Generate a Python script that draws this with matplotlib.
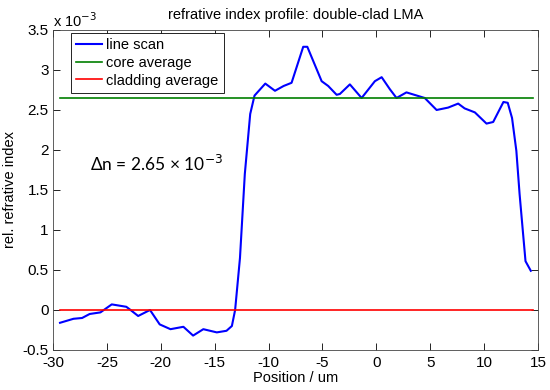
import matplotlib.pyplot as plt

# line scan, position in um, rel. index in units of 1e-3
pos = [-29.35, -28.1, -27.3, -26.6, -25.6, -24.55, -23.2, -22.9, -22.1, -21.0,
       -20.1, -19.1, -17.9, -17.0, -16.05, -14.8, -13.9, -13.4, -13.1, -12.65,
       -12.2, -11.7, -11.3, -10.3, -9.4, -8.6, -7.86, -6.78, -6.4, -5.07,
       -4.46, -3.68, -3.38, -2.45, -1.36, -0.13, 0.5, 1.26, 1.88, 2.8,
       4.5, 5.6, 6.67, 7.6, 8.2, 9.15, 10.23, 10.85, 11.8, 12.2,
       12.6, 13.0, 13.3, 13.6, 13.85, 14.34]
dn = [-0.16, -0.11, -0.10, -0.05, -0.03, 0.07, 0.04, 0.01, -0.075, 0.0,
      -0.18, -0.24, -0.21, -0.32, -0.24, -0.28, -0.26, -0.20, 0.0, 0.65,
      1.7, 2.45, 2.68, 2.83, 2.74, 2.80, 2.84, 3.29, 3.29, 2.86,
      2.80, 2.69, 2.70, 2.82, 2.65, 2.86, 2.91, 2.76, 2.65, 2.72,
      2.65, 2.50, 2.53, 2.58, 2.52, 2.47, 2.33, 2.35, 2.60, 2.59,
      2.40, 1.99, 1.45, 0.99, 0.61, 0.49]
core_avg = 2.65
clad_avg = 0.0
avg_range = [-29.35, 14.5]

plt.rcParams['font.family'] = ['Liberation Sans', 'DejaVu Sans']
plt.rcParams['font.size'] = 10.5
plt.rcParams['axes.unicode_minus'] = False

fig = plt.figure(figsize=(5.5, 3.9), dpi=100)
ax = fig.add_axes([0.0964, 0.1026, 0.8816, 0.8205])

ax.plot(pos, dn, color="#0000ff", lw=1.5, label="line scan")
ax.plot(avg_range, [core_avg, core_avg], color="#007f00", lw=1.2, label="core average")
ax.plot(avg_range, [clad_avg, clad_avg], color="#ff0000", lw=1.2, label="cladding average")

ax.set_xlim(-30, 15)
ax.set_ylim(-0.5, 3.5)
ax.set_xticks(range(-30, 16, 5))
ax.set_yticks([-0.5, 0, 0.5, 1, 1.5, 2, 2.5, 3, 3.5])
ax.set_yticklabels(["-0.5", "0", "0.5", "1", "1.5", "2", "2.5", "3", "3.5"])
ax.tick_params(direction="in", top=True, right=True, length=5, width=0.6, labelsize=11)
ax.tick_params(axis="x", pad=4)
ax.tick_params(axis="y", pad=3)
for s in ax.spines.values():
    s.set_linewidth(0.6)
    s.set_color("#444444")

ax.text(0, 1.0, r"x 10$^{-3}$", transform=ax.transAxes, fontsize=10.5, ha="left", va="bottom")
ax.set_title("refrative index profile: double-clad LMA", fontsize=10.5, pad=8)
ax.set_xlabel("Position / um", labelpad=1)
ax.set_ylabel("rel. refrative index", labelpad=4)

ax.text(-26.6, 1.83, "Δn = 2.65 × 10$^{-3}$", fontsize=12.5, family=["Lato", "DejaVu Sans"],
        ha="left", va="center")

leg = ax.legend(loc="upper left", bbox_to_anchor=(0.0365, 0.99), borderaxespad=0,
                fancybox=False, framealpha=1, edgecolor="black", fontsize=10.5,
                handlelength=1.8, borderpad=0.35, labelspacing=0.25, handletextpad=0.3)
leg.get_frame().set_linewidth(0.6)

fig.savefig("out.png", dpi=100)
